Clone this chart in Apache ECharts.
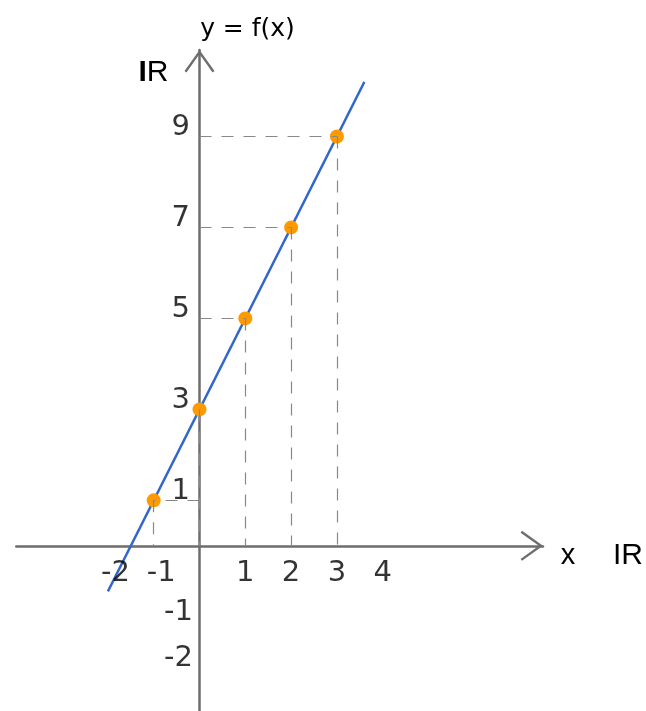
<!DOCTYPE html>
<html>
<head>
<meta charset="utf-8">
<script src="https://cdn.jsdelivr.net/npm/echarts@6/dist/echarts.min.js"></script>
<style>
html,body{margin:0;padding:0;background:#fff;}
#chart{width:646px;height:711px;}
</style>
</head>
<body>
<div id="chart"></div>
<script>
// ---- data ----
var lineX = [-2, 3.6];
var lineY = [-1, 10.2];
var pointsX = [-1, 0, 1, 2, 3];
var pointsY = [1, 3, 5, 7, 9];
var xTicksNeg = [-2, -1];
var xTicksPos = [1, 2, 3, 4];
var yTicksPos = [1, 3, 5, 7, 9];
var yTicksNeg = [-1, -2];

// ---- build ----
var lineData = lineX.map(function (x, i) { return [x, lineY[i]]; });
var pointData = pointsX.map(function (x, i) { return [x, pointsY[i]]; });
var guides = [];
pointData.forEach(function (p) {
  if (p[0] !== 0) guides.push([{ coord: [0, p[1]] }, { coord: [p[0], p[1]] }]);
  if (p[1] !== 0) guides.push([{ coord: [p[0], p[1]] }, { coord: [p[0], 0] }]);
});

var AXIS_COLOR = '#6d6d6d';
var chevron = 'path://M0,21 L15,0 L30,21 L28.05,22.4 L15,4.1 L1.95,22.4 Z';
var tickFont = { fontFamily: 'DejaVu Sans', fontSize: 29, color: '#000' };

function labelSeries(vals, isX, align, offset) {
  return {
    type: 'scatter',
    silent: true,
    symbolSize: 1,
    itemStyle: { color: 'transparent' },
    data: vals.map(function (v) { return isX ? [v, 0] : [0, v]; }),
    label: Object.assign({
      show: true,
      position: 'inside',
      align: align,
      verticalAlign: 'middle',
      offset: offset,
      formatter: function (p) { return String(isX ? p.value[0] : p.value[1]); }
    }, tickFont),
    z: 5
  };
}

var chart = echarts.init(document.getElementById('chart'), null, { renderer: 'canvas' });
chart.setOption({
  animation: false,
  backgroundColor: '#ffffff',
  grid: { left: 16.3, right: 103, top: 50, bottom: 0, containLabel: false, outerBoundsMode: 'none' },
  xAxis: {
    type: 'value', min: -4, max: 7.5,
    splitLine: { show: false }, axisTick: { show: false }, axisLabel: { show: false },
    axisLine: {
      onZero: true,
      symbol: ['none', chevron], symbolSize: [30, 22.4], symbolOffset: [0, -11.2],
      lineStyle: { color: AXIS_COLOR, width: 2.5 }
    }
  },
  yAxis: {
    type: 'value', min: -3.63, max: 10.9,
    splitLine: { show: false }, axisTick: { show: false }, axisLabel: { show: false },
    axisLine: {
      onZero: true,
      symbol: ['none', chevron], symbolSize: [30, 22.4], symbolOffset: [0, -11.2],
      lineStyle: { color: AXIS_COLOR, width: 2.5 }
    }
  },
  series: [
    {
      type: 'line',
      data: [],
      silent: true,
      markLine: {
        silent: true,
        symbol: ['none', 'none'],
        label: { show: false },
        lineStyle: { color: '#888888', width: 1.2, type: [12, 10] },
        data: guides
      },
      z: 1
    },
    {
      type: 'line',
      data: lineData,
      showSymbol: false,
      silent: true,
      lineStyle: { color: '#3366cc', width: 2.4 },
      z: 3
    },
    {
      type: 'scatter',
      data: pointData,
      symbolSize: 14,
      itemStyle: { color: '#ff9900', opacity: 1 },
      silent: true,
      z: 4
    },
    labelSeries(yTicksPos, false, 'right', [-9.5, -9]),
    labelSeries(yTicksNeg, false, 'right', [-6.5, 21.5]),
    labelSeries(xTicksPos, true, 'center', [0, 27.5]),
    labelSeries(xTicksNeg, true, 'center', [7.5, 27.5])
  ],
  graphic: [
    { type: 'text', x: 247.5, y: 29.5, style: { text: 'y = f(x)', align: 'center', verticalAlign: 'middle', fontFamily: 'DejaVu Sans', fontSize: 25, fill: '#000' } },
    { type: 'text', x: 153.4, y: 72.5, style: { text: '{b|I}{n|R}', align: 'center', verticalAlign: 'middle', rich: { b: { fontFamily: 'Liberation Sans', fontWeight: 'bold', fontSize: 30, fill: '#000' }, n: { fontFamily: 'Liberation Sans', fontSize: 30, fill: '#000' } } } },
    { type: 'text', x: 568, y: 556, style: { text: 'x', align: 'center', verticalAlign: 'middle', fontFamily: 'Liberation Sans', fontSize: 29, fill: '#000' } },
    { type: 'text', x: 628, y: 555.5, style: { text: 'IR', align: 'center', verticalAlign: 'middle', fontFamily: 'Liberation Sans', fontSize: 30, fill: '#000' } }
  ]
});
</script>
</body>
</html>
